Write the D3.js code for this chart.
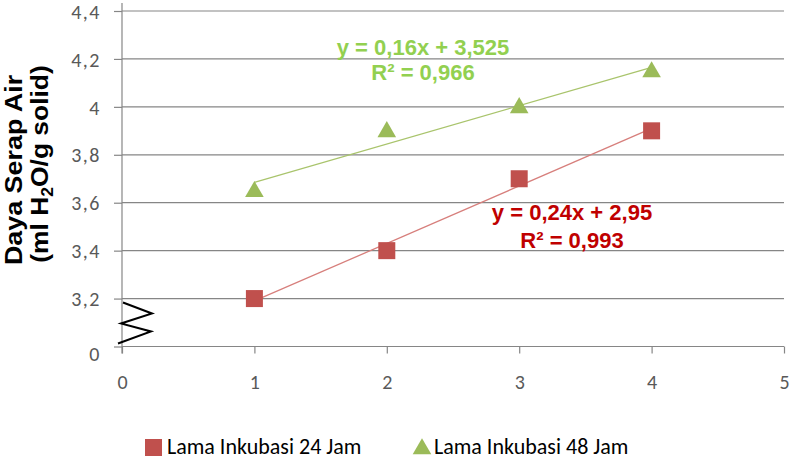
<!DOCTYPE html>
<html><head><meta charset="utf-8">
<script src="https://cdn.jsdelivr.net/npm/d3@7"></script>
<style>body{margin:0;background:#fff}svg{display:block}</style>
</head><body>
<svg id="c" width="792" height="460"></svg>
<script>
const xValues = [1, 2, 3, 4];
const series24 = [3.2, 3.4, 3.7, 3.9];
const series48 = [3.65, 3.9, 4.0, 4.15];
const seriesNames = ["Lama Inkubasi 24 Jam", "Lama Inkubasi 48 Jam"];
const trend24 = {slope: 0.24, intercept: 2.95, eq: "y = 0,24x + 2,95", r2: "R² = 0,993"};
const trend48 = {slope: 0.16, intercept: 3.525, eq: "y = 0,16x + 3,525", r2: "R² = 0,966"};
const yTickValues = [3.0, 3.2, 3.4, 3.6, 3.8, 4.0, 4.2, 4.4];
const yTickLabels = ["0", "3,2", "3,4", "3,6", "3,8", "4", "4,2", "4,4"];
const xTickValues = [0, 1, 2, 3, 4, 5];

const svg = d3.select("#c");
const L = 122, R = 784, T = 11, B = 346.5;
const x = d3.scaleLinear().domain([0, 5]).range([L, R]);
const y = d3.scaleLinear().domain([3.0, 4.4]).range([B, T]);
const axisCol = "#868686";
const tickFont = "Carlito, 'Liberation Sans Narrow', 'Open Sans', sans-serif";

// gridlines
svg.append("g").selectAll("line").data(yTickValues).join("line")
  .attr("x1", L).attr("x2", R).attr("y1", d => y(d)).attr("y2", d => y(d))
  .attr("stroke", axisCol).attr("stroke-width", 1.2);

// y axis
const ya = svg.append("g").attr("transform", `translate(${L},0)`)
  .call(d3.axisLeft(y).tickValues(yTickValues).tickFormat((d, i) => yTickLabels[i]).tickSize(8).tickPadding(13));
ya.select(".domain").remove();
ya.selectAll(".tick line").attr("stroke", axisCol).attr("stroke-width", 1.2);
ya.selectAll(".tick text").attr("fill", "#595959").style("font-family", tickFont).style("font-size", "20px")
  .style("letter-spacing", "1.5px").attr("dy", (d, i) => i === 0 ? "0.72em" : "0.36em");
svg.append("line").attr("x1", L).attr("x2", L).attr("y1", 3).attr("y2", B + 7)
  .attr("stroke", axisCol).attr("stroke-width", 1.2);

// x axis
const xa = svg.append("g").attr("transform", `translate(0,${B})`)
  .call(d3.axisBottom(x).tickValues(xTickValues).tickFormat(d => d).tickSize(7).tickPadding(21));
xa.select(".domain").attr("stroke", axisCol).attr("stroke-width", 1.2).attr("d", `M${L},0H${R}`);
xa.selectAll(".tick line").attr("stroke", axisCol).attr("stroke-width", 1.2);
xa.selectAll(".tick text").attr("fill", "#595959").style("font-family", tickFont).style("font-size", "20px");

// break symbol (relative to axis position)
const bx = L, by = B;
svg.append("polyline")
  .attr("points", [[bx - 4, by - 3], [bx + 29, by - 15], [bx - 1, by - 23], [bx + 30, by - 33], [bx + 1, by - 44]].map(p => p.join(",")).join(" "))
  .attr("fill", "none").attr("stroke", "#000").attr("stroke-width", 2);

// trendlines
function trendLine(t, col) {
  const xs = d3.extent(xValues);
  svg.append("line")
    .attr("x1", x(xs[0])).attr("y1", y(t.slope * xs[0] + t.intercept))
    .attr("x2", x(xs[1])).attr("y2", y(t.slope * xs[1] + t.intercept))
    .attr("stroke", col).attr("stroke-width", 1.3);
}
trendLine(trend48, "#A9C46C");
trendLine(trend24, "#D77F7C");

// markers
const sq = 17;
svg.append("g").selectAll("rect").data(xValues.map((v, i) => [v, series24[i]])).join("rect")
  .attr("x", d => x(d[0]) - sq / 2).attr("y", d => y(d[1]) - sq / 2)
  .attr("width", sq).attr("height", sq).attr("fill", "#C0504D");
const tri = d3.symbol().type(d3.symbolTriangle).size(150);
svg.append("g").selectAll("path").data(xValues.map((v, i) => [v, series48[i]])).join("path")
  .attr("d", tri).attr("transform", d => `translate(${x(d[0])},${y(d[1]) + 1})`).attr("fill", "#9BBB59");

// equation labels
const eqFont = "'Liberation Sans', Arial, sans-serif";
function eqLabel(t, cx, cy, gap, col) {
  const g = svg.append("g").style("font-family", eqFont).style("font-size", "22px").style("font-weight", "bold")
    .attr("fill", col).attr("text-anchor", "middle");
  g.append("text").attr("x", cx).attr("y", cy).text(t.eq);
  g.append("text").attr("x", cx).attr("y", cy + gap).text(t.r2);
}
eqLabel(trend48, 423, 55, 25, "#92D050");
eqLabel(trend24, 572, 220, 28, "#C00000");

// y axis title
const yt1 = svg.append("text").attr("transform", "translate(0,170) rotate(-90) scale(1.12,1)")
  .attr("text-anchor", "middle").style("font-family", eqFont).style("font-size", "24px").style("font-weight", "bold").attr("fill", "#000");
yt1.append("tspan").attr("x", 0).attr("y", 22).text("Daya Serap Air");
const yt2 = svg.append("text").attr("transform", "translate(0,164) rotate(-90) scale(1.1,1)")
  .attr("text-anchor", "middle").style("font-family", eqFont).style("font-size", "24px").style("font-weight", "bold").attr("fill", "#000");
yt2.append("tspan").attr("x", 0).attr("y", 48).text("(ml H");
yt2.append("tspan").attr("dy", 5).style("font-size", "16px").text("2");
yt2.append("tspan").attr("dy", -5).text("O/g solid)");

// legend
const legFont = "Carlito, 'Liberation Sans Narrow', 'Open Sans', sans-serif";
const lg = svg.append("g").style("font-family", legFont).style("font-size", "22px").attr("fill", "#000");
lg.append("rect").attr("x", 145).attr("y", 439).attr("width", 17).attr("height", 17).attr("fill", "#C0504D");
lg.append("text").attr("x", 167).attr("y", 454).text(seriesNames[0]);
lg.append("path").attr("d", d3.symbol().type(d3.symbolTriangle).size(150)).attr("transform", "translate(422,449)").attr("fill", "#9BBB59");
lg.append("text").attr("x", 434).attr("y", 454).text(seriesNames[1]);
</script>
</body></html>
